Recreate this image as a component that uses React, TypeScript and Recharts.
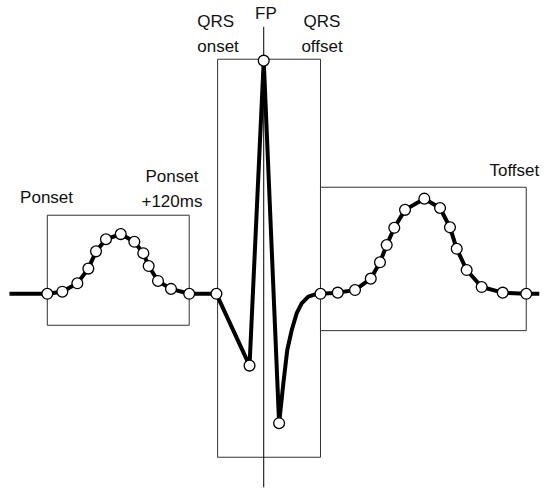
import React from 'react';
import {
  ComposedChart,
  Line,
  Scatter,
  XAxis,
  YAxis,
  ReferenceArea,
  ReferenceLine,
  ReferenceDot,
} from 'recharts';

// Sampled beat: time in ms (0 = P onset), amplitude normalised to the R peak.
const sampleTimes = [
  0, 12.7, 25.4, 34.7, 41.2, 49.6, 62.1, 73.6, 81.2, 85.7, 93.6, 104.6, 120,
  143, 171, 183, 196,
  231, 245.6, 260.2, 273.5, 281.3, 287, 293.4, 302.5, 318.8, 332.1, 340.5, 346.2,
  354.6, 367.3, 385.1, 405,
];
const sampleAmps = [
  0, 0.009, 0.045, 0.108, 0.182, 0.234, 0.256, 0.223, 0.174, 0.119, 0.055, 0.021, 0,
  0, -0.308, 1.0, -0.555,
  0, 0.005, 0.016, 0.065, 0.135, 0.209, 0.283, 0.36, 0.408, 0.368, 0.285, 0.193,
  0.102, 0.029, 0.005, 0,
];

// Extra trace vertices: isoelectric lead-in/out and the S-wave recovery.
const leadTimes = [-32, 416];
const leadAmps = [0, 0];
const sRecoveryTimes = [199.6, 202.9, 206.7, 210.9, 215.1, 220.7, 227.8];
const sRecoveryAmps = [-0.384, -0.241, -0.155, -0.083, -0.041, -0.012, 0];

// Fiducial points (ms)
const pOnset = 0;
const pWindowEnd = 120;
const qrsOnset = 144;
const fiducialPoint = 183;
const qrsOffset = 231;
const tOffset = 405;

// Window heights (amplitude units)
const pWindow = [-0.135, 0.337];
const qrsWindow = [-0.701, 1.006];
const tWindow = [-0.158, 0.457];
const fpLine = [-0.83, 1.145];

// Annotation text: lines, anchor time, baseline amplitudes, alignment
const labelLines = [
  ['Ponset'],
  ['Ponset', '+120ms'],
  ['QRS', 'onset'],
  ['FP'],
  ['QRS', 'offset'],
  ['Toffset'],
];
const labelTimes = [-23, 105.4, 126.8, 184.9, 232.3, 416];
const labelAmps = [
  [0.388],
  [0.481, 0.373],
  [1.145, 1.038],
  [1.18],
  [1.145, 1.038],
  [0.505],
];
const labelAnchors = ['start', 'middle', 'start', 'middle', 'middle', 'end'];

const samples = sampleTimes.map((t, i) => ({ t, a: sampleAmps[i] }));
const trace = [
  ...samples,
  ...leadTimes.map((t, i) => ({ t, a: leadAmps[i] })),
  ...sRecoveryTimes.map((t, i) => ({ t, a: sRecoveryAmps[i] })),
].sort((p, q) => p.t - q.t);

const FONT = '"Liberation Sans", Arial, sans-serif';
const W = 544;
const H = 492;
const xDomain: [number, number] = [-40, 420];
const yDomain: [number, number] = [-0.85, 1.26];
const yScale = H / (yDomain[1] - yDomain[0]);

const SampleDot = (props: any) => {
  const { cx, cy } = props;
  if (cx == null || cy == null) return null;
  return <circle cx={cx} cy={cy} r={5.4} fill="#fff" stroke="#000" strokeWidth={1.3} />;
};

const makeLabel = (lines: string[], amps: number[], anchor: string) => (props: any) => {
  const { cx, cy } = props;
  if (cx == null || cy == null) return null;
  return (
    <text fontFamily={FONT} fontSize={17} fill="#111" textAnchor={anchor as any}>
      {lines.map((s, k) => (
        <tspan key={k} x={cx} y={cy + (amps[0] - amps[k]) * yScale}>
          {s}
        </tspan>
      ))}
    </text>
  );
};

export default function App() {
  return (
    <div style={{ position: 'absolute', left: 0, top: 0, background: '#fff' }}>
      <ComposedChart
        width={W}
        height={H}
        data={trace}
        margin={{ top: 0, right: 0, bottom: 0, left: 0 }}
      >
        <XAxis dataKey="t" type="number" domain={xDomain} hide allowDataOverflow />
        <YAxis type="number" domain={yDomain} hide allowDataOverflow />
        <ReferenceArea
          x1={pOnset}
          x2={pWindowEnd}
          y1={pWindow[0]}
          y2={pWindow[1]}
          fill="none"
          stroke="#333"
          strokeWidth={1}
          ifOverflow="visible"
        />
        <ReferenceArea
          x1={qrsOnset}
          x2={qrsOffset}
          y1={qrsWindow[0]}
          y2={qrsWindow[1]}
          fill="none"
          stroke="#333"
          strokeWidth={1}
          ifOverflow="visible"
        />
        <ReferenceArea
          x1={qrsOffset}
          x2={tOffset}
          y1={tWindow[0]}
          y2={tWindow[1]}
          fill="none"
          stroke="#333"
          strokeWidth={1}
          ifOverflow="visible"
        />
        <ReferenceLine
          segment={[
            { x: fiducialPoint, y: fpLine[1] },
            { x: fiducialPoint, y: fpLine[0] },
          ]}
          stroke="#000"
          strokeWidth={1}
          ifOverflow="visible"
        />
        <Line
          type="linear"
          dataKey="a"
          stroke="#000"
          strokeWidth={4}
          strokeLinejoin="round"
          dot={false}
          activeDot={false}
          isAnimationActive={false}
        />
        <Scatter data={samples} dataKey="a" shape={SampleDot} isAnimationActive={false} />
        {labelLines.map((lines, i) => (
          <ReferenceDot
            key={i}
            x={labelTimes[i]}
            y={labelAmps[i][0]}
            r={0}
            ifOverflow="visible"
            shape={makeLabel(lines, labelAmps[i], labelAnchors[i])}
          />
        ))}
      </ComposedChart>
    </div>
  );
}
